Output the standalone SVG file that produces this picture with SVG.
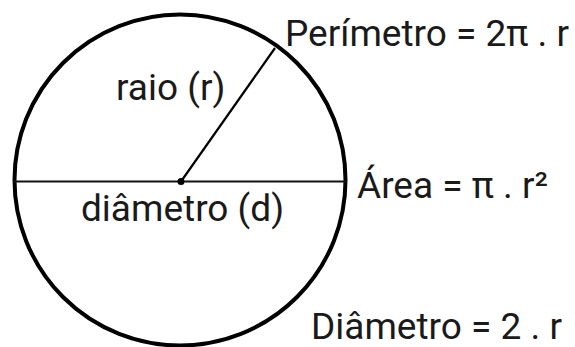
<svg xmlns="http://www.w3.org/2000/svg" width="575" height="347" viewBox="0 0 575 347">
<style>
text{font-family:Roboto,"Liberation Sans",sans-serif;font-size:37px;fill:#1a1a1a}
</style>
<rect width="575" height="347" fill="#fff"/>
<g id="circle">
<circle cx="180" cy="180" r="165.5" fill="none" stroke="#000" stroke-width="4"/>
</g>
<g id="connectors">
<line x1="13" y1="181.5" x2="347" y2="181.5" stroke="#111" stroke-width="2.2"/>
<line x1="181" y1="181.5" x2="275" y2="48" stroke="#000" stroke-width="2.2"/>
<circle cx="181" cy="181.5" r="3.5" fill="#000"/>
</g>
<g id="labels">
<text x="116" y="100">raio (r)</text>
<text x="81" y="221">diâmetro (d)</text>
<text x="285" y="45.5">Perímetro = 2π . r</text>
<text x="357" y="198">Área = π . r²</text>
<text x="311" y="339">Diâmetro = 2 . r</text>
</g>
</svg>
